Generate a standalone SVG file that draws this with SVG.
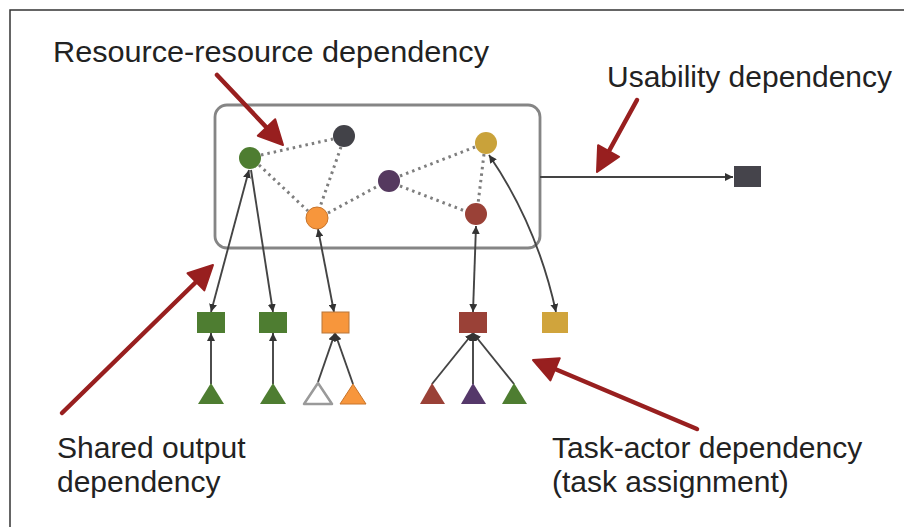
<svg xmlns="http://www.w3.org/2000/svg" width="904" height="532" viewBox="0 0 904 532">
<defs>
<style>
.lbl{font-family:"Liberation Sans",Arial,sans-serif;font-size:30px;fill:#222}
.dot{stroke:#7e7e7e;stroke-width:3;stroke-dasharray:2.5 4;fill:none}
.conn{stroke:#444;stroke-width:1.9;fill:none}
.red{stroke:#981f1f;stroke-width:4.5;fill:none;stroke-linecap:round}
.redhead{fill:#981f1f;stroke:#981f1f;stroke-width:2;stroke-linejoin:round}
</style>
<marker id="ah" viewBox="0 0 10 10" refX="10" refY="5" markerWidth="8" markerHeight="8" markerUnits="userSpaceOnUse" orient="auto-start-reverse">
<path d="M0,0 L10,5 L0,10 z" fill="#333"/>
</marker>
</defs>
<rect width="904" height="532" fill="#ffffff"/>
<path d="M10,527 V10 H904" fill="none" stroke="#333" stroke-width="1.5"/>

<g id="resource-box">
<rect x="215" y="105" width="325" height="143" rx="12" ry="12" fill="none" stroke="#858585" stroke-width="2.8"/>
</g>

<g id="connectors">
<line class="dot" x1="261" y1="155" x2="333" y2="139"/>
<line class="dot" x1="259" y1="165" x2="308" y2="211"/>
<line class="dot" x1="341" y1="147" x2="320" y2="207"/>
<line class="dot" x1="328" y1="213" x2="378" y2="186"/>
<line class="dot" x1="400" y1="176" x2="475" y2="147"/>
<line class="dot" x1="400" y1="186" x2="465" y2="211"/>
<line class="dot" x1="484" y1="154" x2="478" y2="204"/>
<line class="conn" x1="249" y1="170" x2="211" y2="312" marker-start="url(#ah)" marker-end="url(#ah)"/>
<line class="conn" x1="251" y1="170" x2="273" y2="312" marker-end="url(#ah)"/>
<line class="conn" x1="318" y1="229" x2="334" y2="312" marker-start="url(#ah)" marker-end="url(#ah)"/>
<line class="conn" x1="476" y1="226" x2="473" y2="312" marker-start="url(#ah)" marker-end="url(#ah)"/>
<path class="conn" d="M489,155 Q537,225 556,312" marker-start="url(#ah)" marker-end="url(#ah)"/>
<line class="conn" x1="540" y1="177" x2="733" y2="177" marker-end="url(#ah)"/>
<line class="conn" x1="211" y1="384" x2="211" y2="333" marker-end="url(#ah)"/>
<line class="conn" x1="273" y1="384" x2="273" y2="333" marker-end="url(#ah)"/>
<line class="conn" x1="318" y1="382" x2="335" y2="333" marker-end="url(#ah)"/>
<line class="conn" x1="353" y1="384" x2="335" y2="333" marker-end="url(#ah)"/>
<line class="conn" x1="432" y1="384" x2="473" y2="333" marker-end="url(#ah)"/>
<line class="conn" x1="473" y1="384" x2="473" y2="333" marker-end="url(#ah)"/>
<line class="conn" x1="514" y1="384" x2="473" y2="333" marker-end="url(#ah)"/>
</g>

<g id="c-green"><circle cx="250" cy="158" r="11" fill="#4e7d31"/></g>
<g id="c-dark"><circle cx="344" cy="136" r="11" fill="#424248"/></g>
<g id="c-purple"><circle cx="389" cy="181" r="11" fill="#55395f"/></g>
<g id="c-orange"><circle cx="317" cy="218" r="11" fill="#f7963c" stroke="#c8742a" stroke-width="1"/></g>
<g id="c-gold"><circle cx="486" cy="143" r="11" fill="#c9a23a"/></g>
<g id="c-red"><circle cx="476" cy="214" r="11" fill="#9a4137"/></g>

<g id="usability-target"><rect x="734" y="166" width="27" height="21" fill="#45444b"/></g>

<g id="r-green1"><rect x="197" y="312" width="28" height="21" fill="#4e7d31"/></g>
<g id="r-green2"><rect x="259" y="312" width="28" height="21" fill="#4e7d31"/></g>
<g id="r-orange"><rect x="322" y="312" width="27" height="21" fill="#f7963c" stroke="#b8763a" stroke-width="1"/></g>
<g id="r-red"><rect x="459" y="312" width="28" height="21" fill="#9a4137"/></g>
<g id="r-gold"><rect x="542" y="312" width="26" height="21" fill="#d0a43c"/></g>

<g id="t-green1"><polygon points="211,383 198,404 224,404" fill="#4e7d31"/></g>
<g id="t-green2"><polygon points="273,383 260,404 286,404" fill="#4e7d31"/></g>
<g id="t-white"><polygon points="318,383 304,404 332,404" fill="#fff" stroke="#9a9a9a" stroke-width="2.5" stroke-linejoin="round"/></g>
<g id="t-orange"><polygon points="353,384 340,404 366,404" fill="#f7963c" stroke="#c8742a" stroke-width="1"/></g>
<g id="t-red"><polygon points="432,383 420,404 445,404" fill="#9a4137"/></g>
<g id="t-purple"><polygon points="473,383 461,404 486,404" fill="#55386a"/></g>
<g id="t-green3"><polygon points="514,383 502,404 527,404" fill="#4e7d31"/></g>

<g id="red-arrows">
<line class="red" x1="217" y1="75" x2="267" y2="128"/>
<polygon class="redhead" points="283,145 257.8,135.7 275.2,119.3"/>
<line class="red" x1="637" y1="100" x2="609" y2="151"/>
<polygon class="redhead" points="597,172 619.1,156.8 598.1,145.2"/>
<line class="red" x1="62" y1="413" x2="196" y2="282"/>
<polygon class="redhead" points="213,265 204.3,290.4 187.5,273.2"/>
<line class="red" x1="697" y1="429" x2="555" y2="369"/>
<polygon class="redhead" points="533,360 559.8,358.2 550.4,380.4"/>
</g>

<g id="labels">
<text class="lbl" x="53" y="62" textLength="436" lengthAdjust="spacingAndGlyphs">Resource-resource dependency</text>
<text class="lbl" x="607" y="87" textLength="285" lengthAdjust="spacingAndGlyphs">Usability dependency</text>
<text class="lbl" x="57" y="458">Shared output</text>
<text class="lbl" x="57" y="492">dependency</text>
<text class="lbl" x="552" y="458">Task-actor dependency</text>
<text class="lbl" x="552" y="492">(task assignment)</text>
</g>
</svg>
